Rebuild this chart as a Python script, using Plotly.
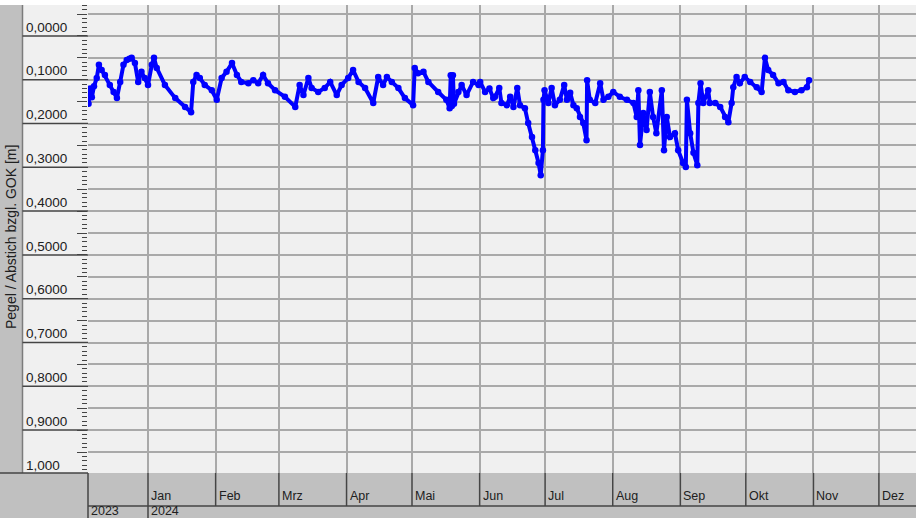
import plotly.graph_objects as go

# ---- data (date, depth below ground [m]) ----
dates = [
    "2023-12-04 00:00", "2023-12-04 18:00", "2023-12-05 12:00", "2023-12-06 06:00", "2023-12-07 06:00",
    "2023-12-08 12:00", "2023-12-09 12:00", "2023-12-10 18:00", "2023-12-12 06:00", "2023-12-14 12:00",
    "2023-12-16 06:00", "2023-12-17 18:00", "2023-12-19 06:00", "2023-12-20 18:00", "2023-12-22 06:00",
    "2023-12-23 12:00", "2023-12-24 12:00", "2023-12-26 00:00", "2023-12-27 12:00", "2023-12-29 00:00",
    "2023-12-30 12:00", "2024-01-01 00:00", "2024-01-02 18:00", "2024-01-03 18:00", "2024-01-05 00:00",
    "2024-01-08 18:00", "2024-01-13 12:00", "2024-01-18 00:00", "2024-01-20 18:00", "2024-01-21 18:00",
    "2024-01-23 06:00", "2024-01-24 18:00", "2024-01-27 00:00", "2024-01-30 06:00", "2024-02-01 12:00",
    "2024-02-03 18:00", "2024-02-06 00:00", "2024-02-08 12:00", "2024-02-10 18:00", "2024-02-12 18:00",
    "2024-02-16 00:00", "2024-02-18 06:00", "2024-02-20 12:00", "2024-02-22 18:00", "2024-02-25 00:00",
    "2024-02-28 06:00", "2024-03-03 18:00", "2024-03-08 12:00", "2024-03-10 12:00", "2024-03-12 06:00",
    "2024-03-14 12:00", "2024-03-16 00:00", "2024-03-19 00:00", "2024-03-22 00:00", "2024-03-24 12:00",
    "2024-03-27 12:00", "2024-03-29 18:00", "2024-04-01 18:00", "2024-04-04 00:00", "2024-04-06 12:00",
    "2024-04-09 12:00", "2024-04-13 06:00", "2024-04-15 12:00", "2024-04-17 18:00", "2024-04-19 12:00",
    "2024-04-21 18:00", "2024-04-24 18:00", "2024-04-27 18:00", "2024-05-01 12:00", "2024-05-02 06:00",
    "2024-05-03 18:00", "2024-05-06 06:00", "2024-05-08 12:00", "2024-05-13 00:00", "2024-05-16 18:00",
    "2024-05-18 06:00", "2024-05-18 18:00", "2024-05-19 06:00", "2024-05-19 18:00", "2024-05-20 06:00",
    "2024-05-22 06:00", "2024-05-23 18:00", "2024-05-26 00:00", "2024-05-29 00:00", "2024-05-31 12:00",
    "2024-06-01 06:00", "2024-06-03 12:00", "2024-06-05 12:00", "2024-06-07 06:00", "2024-06-08 00:00",
    "2024-06-10 00:00", "2024-06-11 00:00", "2024-06-13 12:00", "2024-06-15 00:00", "2024-06-16 12:00",
    "2024-06-18 06:00", "2024-06-19 12:00", "2024-06-21 18:00", "2024-06-23 06:00", "2024-06-25 00:00",
    "2024-06-26 12:00", "2024-06-28 00:00", "2024-06-29 00:00", "2024-06-30 00:00", "2024-06-30 06:00",
    "2024-06-30 18:00", "2024-07-02 12:00", "2024-07-04 00:00", "2024-07-05 12:00", "2024-07-07 18:00",
    "2024-07-09 18:00", "2024-07-11 00:00", "2024-07-12 12:00", "2024-07-14 00:00", "2024-07-15 12:00",
    "2024-07-17 00:00", "2024-07-18 12:00", "2024-07-20 00:00", "2024-07-20 06:00", "2024-07-21 12:00",
    "2024-07-24 00:00", "2024-07-26 06:00", "2024-07-27 18:00", "2024-07-30 00:00", "2024-08-01 06:00",
    "2024-08-04 06:00", "2024-08-07 12:00", "2024-08-10 12:00", "2024-08-12 00:00", "2024-08-12 18:00",
    "2024-08-13 12:00", "2024-08-15 00:00", "2024-08-16 12:00", "2024-08-18 00:00", "2024-08-19 12:00",
    "2024-08-21 00:00", "2024-08-23 12:00", "2024-08-24 12:00", "2024-08-25 18:00", "2024-08-27 06:00",
    "2024-08-29 12:00", "2024-08-31 00:00", "2024-09-02 06:00", "2024-09-03 12:00", "2024-09-04 00:00",
    "2024-09-05 12:00", "2024-09-07 00:00", "2024-09-08 18:00", "2024-09-09 06:00", "2024-09-10 06:00",
    "2024-09-11 12:00", "2024-09-13 18:00", "2024-09-14 12:00", "2024-09-17 00:00", "2024-09-19 06:00",
    "2024-09-21 12:00", "2024-09-23 00:00", "2024-09-24 12:00", "2024-09-25 06:00", "2024-09-26 18:00",
    "2024-09-28 06:00", "2024-09-30 12:00", "2024-10-03 00:00", "2024-10-06 00:00", "2024-10-08 06:00",
    "2024-10-09 18:00", "2024-10-11 06:00", "2024-10-13 12:00", "2024-10-16 00:00", "2024-10-18 06:00",
    "2024-10-20 12:00", "2024-10-23 12:00", "2024-10-26 12:00", "2024-10-29 00:00", "2024-10-30 00:00",
]
values = [
    0.185, 0.205, 0.170, 0.190, 0.165,
    0.146, 0.116, 0.128, 0.139, 0.162,
    0.178, 0.192, 0.155, 0.116, 0.105,
    0.102, 0.100, 0.112, 0.155, 0.132,
    0.146, 0.162, 0.116, 0.100, 0.123,
    0.162, 0.192, 0.212, 0.224, 0.155,
    0.139, 0.146, 0.162, 0.174, 0.196,
    0.146, 0.132, 0.112, 0.139, 0.155,
    0.158, 0.151, 0.158, 0.139, 0.158,
    0.174, 0.189, 0.212, 0.162, 0.185,
    0.146, 0.169, 0.178, 0.169, 0.155,
    0.185, 0.162, 0.146, 0.128, 0.155,
    0.169, 0.203, 0.144, 0.162, 0.144,
    0.155, 0.169, 0.192, 0.208, 0.123,
    0.135, 0.132, 0.155, 0.178, 0.196,
    0.215, 0.140, 0.210, 0.140, 0.205,
    0.178, 0.162, 0.185, 0.155, 0.162,
    0.155, 0.178, 0.170, 0.192, 0.189,
    0.169, 0.203, 0.208, 0.189, 0.212,
    0.169, 0.208, 0.215, 0.249, 0.281,
    0.311, 0.340, 0.368, 0.311, 0.196,
    0.174, 0.203, 0.169, 0.208, 0.196,
    0.162, 0.196, 0.180, 0.208, 0.215,
    0.235, 0.249, 0.288, 0.151, 0.196,
    0.203, 0.158, 0.196, 0.189, 0.178,
    0.189, 0.196, 0.203, 0.235, 0.174,
    0.299, 0.226, 0.265, 0.178, 0.235,
    0.272, 0.174, 0.311, 0.235, 0.281,
    0.272, 0.311, 0.340, 0.349, 0.196,
    0.272, 0.317, 0.345, 0.203, 0.158,
    0.203, 0.174, 0.203, 0.203, 0.212,
    0.235, 0.247, 0.203, 0.167, 0.144,
    0.158, 0.144, 0.155, 0.167, 0.178,
    0.100, 0.128, 0.139, 0.158, 0.155,
    0.174, 0.178, 0.174, 0.167, 0.151,
]

y_tick_values = [0.0, 0.1, 0.2, 0.3, 0.4, 0.5, 0.6, 0.7, 0.8, 0.9, 1.0]
y_tick_labels = ["0,0000", "0,1000", "0,2000", "0,3000", "0,4000", "0,5000",
                 "0,6000", "0,7000", "0,8000", "0,9000", "1,000"]
separator_values = [0.05, 0.15, 0.25, 0.35, 0.45, 0.55, 0.65, 0.75, 0.85, 0.95]
month_starts = ["2024-01-01", "2024-02-01", "2024-03-01", "2024-04-01", "2024-05-01", "2024-06-01",
                "2024-07-01", "2024-08-01", "2024-09-01", "2024-10-01", "2024-11-01", "2024-12-01"]
month_labels = ["Jan", "Feb", "Mrz", "Apr", "Mai", "Jun", "Jul", "Aug", "Sep", "Okt", "Nov", "Dez"]
x_range = ["2023-12-04 12:00", "2024-12-18 00:00"]
year_starts = [x_range[0], "2024-01-01"]
year_labels = ["2023", "2024"]
y_range = [1.0479, -0.0206]
y_title = "Pegel / Abstich bzgl. GOK [m]"

# ---- layout geometry (pixels) ----
W, H = 916, 518
L, R, T, B = 88, 0, 5, 45
PW, PH = W - L - R, H - T - B


def xp(px):
    return (px - L) / PW


def yp(py):
    return (H - B - py) / PH


FONT = "Arial, Liberation Sans, Helvetica, sans-serif"
DARK = "#454545"
GRID = "#a9a9a9"
TEXT = "#202020"

fig = go.Figure()
fig.add_trace(go.Scatter(
    x=dates, y=values, mode="lines+markers",
    line=dict(color="#0000ff", width=4),
    marker=dict(color="#0000ff", size=6.5),
    showlegend=False, hoverinfo="x+y",
))

shapes = []
shapes.append(dict(type="rect", xref="paper", yref="paper", x0=xp(22), x1=0, y0=0, y1=1,
                   fillcolor="#f0f0f0", line=dict(width=0), layer="below"))
shapes.append(dict(type="rect", xref="paper", yref="paper", x0=xp(0), x1=1, y0=1, y1=yp(0),
                   fillcolor="#ffffff", line=dict(width=0), layer="below"))
shapes.append(dict(type="line", xref="paper", yref="paper", x0=xp(22.5), x1=xp(22.5), y0=0, y1=1,
                   line=dict(color="#7c7c7c", width=1.5), layer="above"))
shapes.append(dict(type="line", xref="paper", yref="paper", x0=xp(0), x1=0, y0=0, y1=0,
                   line=dict(color=DARK, width=1.5), layer="above"))
for v in separator_values:
    shapes.append(dict(type="line", xref="paper", yref="y", x0=xp(22.5), x1=0, y0=v, y1=v,
                       line=dict(color=DARK, width=1.5), layer="above"))
for d in month_starts:
    bottom = yp(518) if d.endswith("01-01") else yp(506)
    shapes.append(dict(type="line", xref="x", yref="paper", x0=d, x1=d, y0=0, y1=bottom,
                       line=dict(color=DARK, width=1.5), layer="above"))
shapes.append(dict(type="line", xref="paper", yref="paper", x0=0, x1=0, y0=0, y1=yp(518),
                   line=dict(color=DARK, width=1.5), layer="above"))
shapes.append(dict(type="line", xref="paper", yref="paper", x0=0, x1=1, y0=yp(506), y1=yp(506),
                   line=dict(color=DARK, width=1.5), layer="above"))

annotations = []
for v, t in zip(y_tick_values, y_tick_labels):
    annotations.append(dict(text=t, xref="paper", yref="y", x=xp(24), y=v, yshift=-13,
                            xanchor="left", yanchor="middle", showarrow=False,
                            font=dict(family=FONT, size=13.5, color=TEXT)))
for d, t in zip(month_starts, month_labels):
    annotations.append(dict(text=t, xref="x", yref="paper", x=d, y=yp(495.5), xshift=1,
                            xanchor="left", yanchor="middle", showarrow=False,
                            font=dict(family=FONT, size=12.5, color=TEXT)))
for d, t in zip(year_starts, year_labels):
    annotations.append(dict(text=t, xref="x", yref="paper", x=d, y=yp(511), xshift=1,
                            xanchor="left", yanchor="middle", showarrow=False,
                            font=dict(family=FONT, size=12.5, color=TEXT)))
annotations.append(dict(text=y_title, xref="paper", yref="paper", x=xp(11), y=yp(237),
                        textangle=-90, xanchor="center", yanchor="middle", showarrow=False,
                        font=dict(family=FONT, size=14, color=TEXT)))

fig.update_layout(
    width=W, height=H,
    margin=dict(l=L, r=R, t=T, b=B, pad=0),
    paper_bgcolor="#c0c0c0", plot_bgcolor="#f0f0f0",
    shapes=shapes, annotations=annotations,
    xaxis=dict(type="date", range=x_range, tickvals=month_starts, showticklabels=False,
               ticks="", showgrid=True, gridcolor=GRID, gridwidth=2, zeroline=False,
               showline=False, fixedrange=True),
    yaxis=dict(range=y_range, tick0=0, dtick=0.05, ticks="outside", ticklen=10,
               tickwidth=1, tickcolor=DARK, showticklabels=False, showgrid=True,
               gridcolor=GRID, gridwidth=2, zeroline=False, showline=False,
               minor=dict(dtick=0.01, ticklen=5, tickwidth=1, tickcolor=DARK, ticks="outside",
                          showgrid=False),
               fixedrange=True),
    hovermode="closest",
)

fig.write_html(
    "out.html",
    config={"displayModeBar": False},
    post_script="document.body.style.margin='0';document.body.style.padding='0';"
                "document.body.style.overflow='hidden';",
)
